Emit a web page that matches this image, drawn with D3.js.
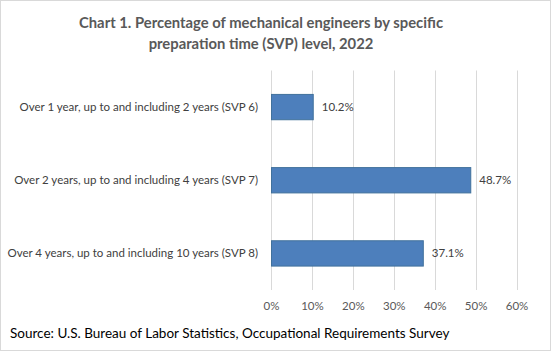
<!DOCTYPE html>
<html>
<head>
<meta charset="utf-8">
<script src="https://cdn.jsdelivr.net/npm/d3@7"></script>
<style>
  body { margin: 0; background: #fff; }
  svg { display: block; font-family: Lato, "Open Sans", sans-serif; }
</style>
</head>
<body>
<div id="chart"></div>
<script>
// data
const categories = [
  "Over 1 year, up to and including 2 years (SVP 6)",
  "Over 2 years, up to and including 4 years (SVP 7)",
  "Over 4 years, up to and including 10 years (SVP 8)"
];
const values = [10.2, 48.7, 37.1];
const ticks = [0, 10, 20, 30, 40, 50, 60];
const titleLines = [
  "Chart 1. Percentage of mechanical engineers by specific",
  "preparation time (SVP) level, 2022"
];
const source = "Source: U.S. Bureau of Labor Statistics, Occupational Requirements Survey";

const width = 551, height = 351;
const margins = {top: 70.5, right: 34.5, bottom: 61, left: 271};

const svg = d3.select("#chart").append("svg")
  .attr("width", width).attr("height", height)
  .attr("viewBox", [0, 0, width, height]);

// outer frame
svg.append("rect")
  .attr("x", 0.5).attr("y", 0.5)
  .attr("width", width - 1).attr("height", height - 1)
  .attr("fill", "#fff").attr("stroke", "#d9d9d9");

const xScale = d3.scaleLinear()
  .domain([0, 60])
  .range([margins.left, width - margins.right]);

const yScale = d3.scaleBand()
  .domain(categories)
  .range([margins.top, height - margins.bottom])
  .paddingInner(0.654)
  .paddingOuter(0.327);

// title
svg.append("text")
  .attr("text-anchor", "middle")
  .attr("font-weight", "bold")
  .attr("font-size", 14.8)
  .attr("fill", "#595959")
  .selectAll("tspan")
  .data(titleLines)
  .join("tspan")
  .attr("x", 261)
  .attr("y", (d, i) => 28 + i * 20.5)
  .text(d => d);

// gridlines
svg.append("g")
  .selectAll("line")
  .data(ticks)
  .join("line")
  .attr("x1", d => Math.round(xScale(d)) + 0.5)
  .attr("x2", d => Math.round(xScale(d)) + 0.5)
  .attr("y1", margins.top)
  .attr("y2", height - margins.bottom)
  .attr("stroke", "#d9d9d9");

// x axis labels
const xAxis = d3.axisBottom(xScale)
  .tickValues(ticks)
  .tickFormat(d => d + "%")
  .tickSize(0)
  .tickPadding(0);

const xGroup = svg.append("g")
  .attr("transform", `translate(0, ${height - margins.bottom + 20})`)
  .call(xAxis);
xGroup.select(".domain").remove();
xGroup.selectAll("text")
  .attr("dy", 0)
  .attr("font-family", "Lato, sans-serif")
  .attr("font-size", 11.5)
  .attr("fill", "#595959");

// category labels
const yAxis = d3.axisLeft(yScale).tickSize(0).tickPadding(13);
const yGroup = svg.append("g")
  .attr("transform", `translate(${margins.left},0)`)
  .call(yAxis);
yGroup.select(".domain").remove();
yGroup.selectAll("text")
  .attr("font-family", "Lato, sans-serif")
  .attr("font-size", 11.5)
  .attr("fill", "#404040");

// bars
svg.append("g")
  .selectAll("rect")
  .data(values)
  .join("rect")
  .attr("x", xScale(0) + 0.5)
  .attr("y", (d, i) => yScale(categories[i]))
  .attr("width", d => xScale(d) - xScale(0))
  .attr("height", yScale.bandwidth())
  .attr("fill", "#4d7fbc")
  .attr("stroke", "#41719c")
  .attr("stroke-width", 1);

// value labels
svg.append("g")
  .selectAll("text")
  .data(values)
  .join("text")
  .attr("x", d => xScale(d) + 9)
  .attr("y", (d, i) => yScale(categories[i]) + yScale.bandwidth() / 2)
  .attr("dy", "0.35em")
  .attr("font-size", 11.5)
  .attr("fill", "#404040")
  .text(d => d.toFixed(1) + "%");

// source note
svg.append("text")
  .attr("x", 10)
  .attr("y", 338)
  .attr("font-size", 13.5)
  .attr("fill", "#000")
  .text(source);
</script>
</body>
</html>
